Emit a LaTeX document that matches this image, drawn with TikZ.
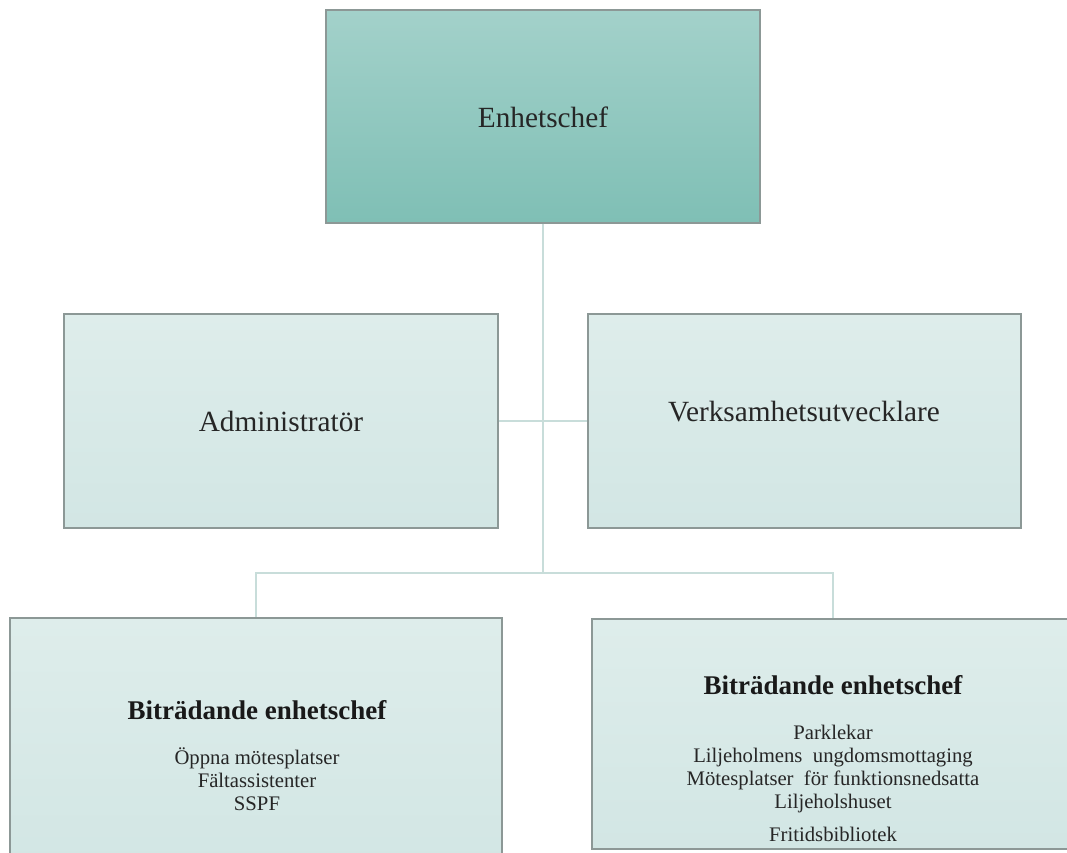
\documentclass[tikz,border=0pt]{standalone}
\usepackage{fontspec}
\setmainfont{Liberation Serif}
\usetikzlibrary{positioning}

\definecolor{cheftop}{HTML}{A3D1CA}
\definecolor{chefbot}{HTML}{7FBFB5}
\definecolor{lighttop}{HTML}{DEEDEB}
\definecolor{lightbot}{HTML}{D2E6E4}
\definecolor{boxline}{HTML}{8C9896}
\definecolor{linkline}{HTML}{C8DDDA}

\tikzset{
  orgbox/.style={draw=boxline, line width=1.2pt, rectangle, inner sep=0pt,
    top color=lighttop, bottom color=lightbot},
  chefbox/.style={orgbox, top color=cheftop, bottom color=chefbot},
  link/.style={draw=linkline, line width=2pt},
  bigtext/.style={inner sep=0pt, text=black!85, font=\fontsize{29.3}{35}\selectfont},
  headtext/.style={inner sep=0pt, text=black!90, font=\bfseries\fontsize{27}{32}\selectfont},
  itemtext/.style={inner sep=0pt, text=black!85, align=center, font=\fontsize{20.7}{23}\selectfont}
}

\begin{document}
\begin{tikzpicture}[x=1pt,y=-1pt]
            \useasboundingbox (0,0) rectangle (1067,852);
            % boxes
            \node[chefbox, minimum width=434pt, minimum height=213pt] (chef) at (543,116.5) {};
            \node[orgbox, minimum width=434pt, minimum height=214pt] (admin) at (281,421) {};
            \node[orgbox, minimum width=433pt, minimum height=214pt] (utv) at (804.5,421) {};
            \node[orgbox, minimum width=492pt, minimum height=250pt] (bitr1) at (256,743) {};
            \node[orgbox, minimum width=482pt, minimum height=230pt] (bitr2) at (833,734) {};
            % texts
            \node[bigtext] (chefname) at (543,117) {Enhetschef};
            \node[bigtext] (adminname) at (281,421) {Administratör};
            \node[bigtext] (utvname) at (804,412) {Verksamhetsutvecklare};
            \node[headtext] (head1) at (257,710) {Biträdande enhetschef};
            \node[itemtext] (items1) at (257,779) {Öppna mötesplatser\\Fältassistenter\\SSPF};
            \node[headtext] (head2) at (833,685) {Biträdande enhetschef};
            \node[itemtext] (items2) at (833,783) {Parklekar\\Liljeholmens\ \ ungdomsmottaging\\Mötesplatser\ \ för funktionsnedsatta\\Liljeholshuset\\[10pt]Fritidsbibliotek};
            % connectors
            \coordinate (fork) at (543,573);
            \draw[link] (chef.south) -- (fork);
            \draw[link] (admin.east) -- (utv.west);
            \draw[link] (fork) -| (bitr1.north);
            \draw[link] (fork) -| (bitr2.north);
\end{tikzpicture}
\end{document}
